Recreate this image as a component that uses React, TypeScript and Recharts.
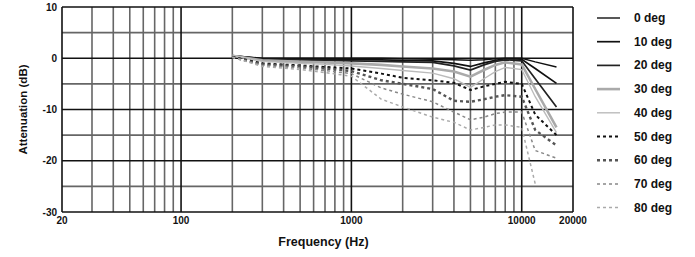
import React from 'react';
import { LineChart, Line, XAxis, YAxis, ReferenceLine } from 'recharts';

const freqs = [200, 300, 500, 700, 1000, 1500, 2000, 3000, 4000, 5000, 6000, 7000, 8000, 10000, 12000, 16000];
const deg0 = [0.5, 0, 0, 0, 0, 0, -0.1, -0.2, -0.3, -0.4, -0.3, -0.1, 0, 0, -0.7, -1.7];
const deg10 = [0.5, -0.1, -0.2, -0.2, -0.2, -0.3, -0.4, -0.5, -1.0, -1.6, -0.9, -0.4, -0.1, -0.2, -2.0, -4.9];
const deg20 = [0.4, -0.2, -0.3, -0.4, -0.5, -0.6, -0.7, -0.8, -1.5, -2.3, -1.3, -0.6, -0.3, -0.5, -4.0, -9.5];
const deg30 = [0.5, -0.4, -0.7, -0.8, -1.0, -1.3, -1.6, -2.0, -2.6, -3.6, -2.3, -1.3, -0.8, -1.2, -6.0, -13.5];
const deg40 = [0.6, -0.6, -1.0, -1.2, -1.5, -2.0, -2.4, -2.9, -4.0, -5.7, -4.0, -2.6, -1.8, -2.2, -7.5, -14.5];
const deg50 = [0.3, -1.0, -1.4, -1.7, -2.0, -3.0, -3.8, -4.3, -4.8, -6.2, -5.5, -5.0, -4.6, -5.0, -11, -15];
const deg60 = [0.2, -1.2, -1.6, -2.0, -2.5, -4.3, -5.0, -6.0, -8.3, -8.5, -8.0, -7.5, -7.2, -7.5, -14, -17];
const deg70 = [0.2, -1.4, -1.9, -2.4, -3.0, -5.8, -7.0, -8.5, -10.5, -12.0, -11.5, -10.8, -10.5, -10.5, -18, -19.5];
const deg80 = [0.2, -1.6, -2.2, -2.8, -3.5, -8.0, -9.5, -11.5, -12.5, -14.0, -13.5, -13.0, -13.0, -13.5, -24.5, null];

const seriesNames = ['0 deg', '10 deg', '20 deg', '30 deg', '40 deg', '50 deg', '60 deg', '70 deg', '80 deg'];
const seriesValues = [deg0, deg10, deg20, deg30, deg40, deg50, deg60, deg70, deg80];
const seriesStyles = [
  { stroke: '#111', width: 1.4, dash: undefined },
  { stroke: '#111', width: 1.7, dash: undefined },
  { stroke: '#222', width: 1.7, dash: undefined },
  { stroke: '#aaa', width: 2.6, dash: undefined },
  { stroke: '#bbb', width: 1.4, dash: undefined },
  { stroke: '#111', width: 2, dash: '3 3' },
  { stroke: '#555', width: 2.4, dash: '3 3' },
  { stroke: '#888', width: 1.5, dash: '3 3' },
  { stroke: '#aaa', width: 1.5, dash: '3 3' },
];

const xTicks = [20, 100, 1000, 10000, 20000];
const yTicks = [-30, -20, -10, 0, 10];
const minorX = [30, 40, 50, 60, 70, 80, 90, 200, 300, 400, 500, 600, 700, 800, 900, 2000, 3000, 4000, 5000, 6000, 7000, 8000, 9000];
const majorX = [100, 1000, 10000, 20000];
const minorY = [-25, -15, -5, 5];
const majorY = [-20, -10, 0, 10];

const rows = freqs.map((f, i) => {
  const r: any = { f };
  seriesValues.forEach((s, k) => { r['s' + k] = s[i]; });
  return r;
});

const FONT = '"Liberation Sans", Arial, sans-serif';

const YLabel = (props: any) => {
  const vb = props.viewBox || {};
  const x = vb.x + 23;
  const y = vb.y + vb.height / 2;
  return (
    <text x={x} y={y} transform={`rotate(-90 ${x} ${y})`} textAnchor="middle" dominantBaseline="central"
      fontFamily={FONT} fontWeight="bold" fontSize={11.5} fill="#111">Attenuation (dB)</text>
  );
};

const XLabel = (props: any) => {
  const vb = props.viewBox || {};
  const x = vb.x + vb.width / 2 + 6;
  const y = vb.y + 30;
  return (
    <text x={x} y={y} textAnchor="middle" dominantBaseline="central"
      fontFamily={FONT} fontWeight="bold" fontSize={12.5} fill="#111">Frequency (Hz)</text>
  );
};

const GRID_MINOR = '#666';
const GRID_MAJOR = '#111';

export default function App() {
  return (
    <div style={{ position: 'absolute', left: 0, top: 0, width: 695, height: 257, background: '#fff' }}>
      <LineChart width={695} height={257} data={rows} margin={{ top: 7, right: 122, bottom: 15, left: 0 }}>
        <XAxis dataKey="f" type="number" scale="log" domain={[20, 20000]} ticks={xTicks} allowDataOverflow
          tickLine={false} tickSize={4} tickMargin={1} height={30}
          axisLine={{ stroke: '#111', strokeWidth: 1.6 }}
          tick={{ fontFamily: FONT, fontWeight: 'bold', fontSize: 10, fill: '#111' }}
          label={<XLabel />} />
        <YAxis type="number" domain={[-30, 10]} ticks={yTicks} allowDataOverflow width={62}
          tickLine={false} tickSize={4} tickMargin={1}
          axisLine={{ stroke: '#111', strokeWidth: 1.6 }}
          tick={{ fontFamily: FONT, fontWeight: 'bold', fontSize: 10, fill: '#111' }}
          label={<YLabel />} />
        {minorX.map((v) => (
          <ReferenceLine key={'mx' + v} x={v} stroke={GRID_MINOR} strokeWidth={1.6} />
        ))}
        {minorY.map((v) => (
          <ReferenceLine key={'my' + v} y={v} stroke={GRID_MINOR} strokeWidth={1.6} />
        ))}
        {majorX.map((v) => (
          <ReferenceLine key={'Mx' + v} x={v} stroke={GRID_MAJOR} strokeWidth={1.6} />
        ))}
        {majorY.map((v) => (
          <ReferenceLine key={'My' + v} y={v} stroke={GRID_MAJOR} strokeWidth={1.6} />
        ))}
        {seriesNames.map((n, k) => (
          <Line key={n} name={n} dataKey={'s' + k} type="linear" dot={false} isAnimationActive={false}
            stroke={seriesStyles[k].stroke} strokeWidth={seriesStyles[k].width}
            strokeDasharray={seriesStyles[k].dash} />
        ))}
      </LineChart>
      <svg width={100} height={230} style={{ position: 'absolute', left: 590, top: 0 }}>
        {seriesNames.map((n, k) => {
          const y = 18 + k * 23.7;
          return (
            <g key={n}>
              <line x1={7} x2={30} y1={y} y2={y} stroke={seriesStyles[k].stroke}
                strokeWidth={seriesStyles[k].width} strokeDasharray={seriesStyles[k].dash} />
              <text x={44} y={y} dominantBaseline="central" fontFamily={FONT} fontWeight="bold" fontSize={12} fill="#111">{n}</text>
            </g>
          );
        })}
      </svg>
    </div>
  );
}
